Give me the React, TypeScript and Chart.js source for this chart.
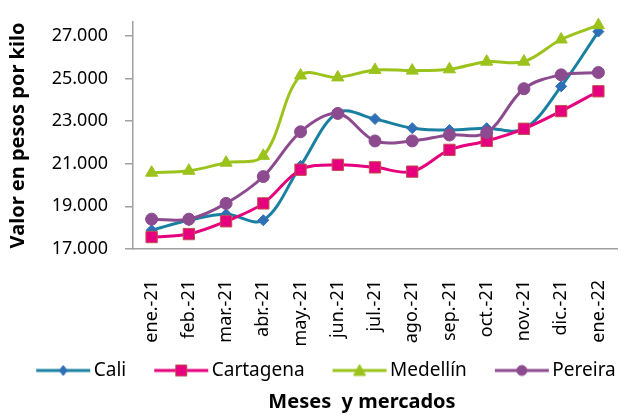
import React, { useEffect, useRef } from 'react';
import { Chart, registerables } from 'chart.js';

Chart.register(...registerables);

const categories = ['ene.-21', 'feb.-21', 'mar.-21', 'abr.-21', 'may.-21', 'jun.-21', 'jul.-21', 'ago.-21', 'sep.-21', 'oct.-21', 'nov.-21', 'dic.-21', 'ene.-22'];
const seriesNames = ['Cali', 'Cartagena', 'Medellín', 'Pereira'];
const cali = [17880, 18350, 18630, 18350, 20900, 23400, 23100, 22670, 22580, 22670, 22630, 24630, 27200];
const cartagena = [17560, 17700, 18300, 19140, 20720, 20950, 20830, 20630, 21650, 22070, 22640, 23470, 24400];
const medellin = [20580, 20670, 21050, 21370, 25140, 25050, 25400, 25370, 25430, 25790, 25790, 26830, 27500];
const pereira = [18400, 18400, 19140, 20400, 22500, 23360, 22070, 22070, 22350, 22460, 24520, 25170, 25280];
const yTicks = [17000, 19000, 21000, 23000, 25000, 27000];
const yTitle = 'Valor en pesos por kilo';
const xTitle = 'Meses  y mercados';

const FONT = '"Noto Sans", "Open Sans", sans-serif';

const styles = [
  { line: '#1a80a2', fill: '#2f6fb5', border: '#2f6fb5', shape: 'rectRot', radius: 5.5 },
  { line: '#e6007e', fill: '#e6007e', border: '#c0504d', shape: 'rect', radius: 8 },
  { line: '#9bc31c', fill: '#9bc31c', border: '#9bc31c', shape: 'triangle', radius: 7 },
  { line: '#8c4a8f', fill: '#8c4a8f', border: '#8c4a8f', shape: 'circle', radius: 6 },
];

// legend swatch: a line with its marker, placed in the right part of a wider transparent image
const SWATCH_W = 88;
const SWATCH_LINE_START = 33;
const SWATCH_LINE_LEN = 54;

function fmt(v: number): string {
  return String(Math.round(v)).replace(/\B(?=(\d{3})+(?!\d))/g, '.');
}

function legendImage(s: any): HTMLCanvasElement {
  const c = document.createElement('canvas');
  c.width = SWATCH_W;
  c.height = 16;
  const g = c.getContext('2d')!;
  g.strokeStyle = s.line;
  g.lineWidth = 3;
  g.beginPath();
  g.moveTo(SWATCH_LINE_START, 8);
  g.lineTo(SWATCH_LINE_START + SWATCH_LINE_LEN, 8);
  g.stroke();
  g.fillStyle = s.fill;
  g.strokeStyle = s.border;
  g.lineWidth = 1;
  const cx = SWATCH_LINE_START + SWATCH_LINE_LEN / 2, cy = 8;
  g.beginPath();
  if (s.shape === 'rectRot') {
    g.moveTo(cx, cy - 5); g.lineTo(cx + 4, cy); g.lineTo(cx, cy + 5); g.lineTo(cx - 4, cy); g.closePath();
  } else if (s.shape === 'rect') {
    g.rect(cx - 5.5, cy - 5.5, 11, 11);
  } else if (s.shape === 'triangle') {
    g.moveTo(cx, cy - 6); g.lineTo(cx + 6, cy + 5); g.lineTo(cx - 6, cy + 5); g.closePath();
  } else {
    g.arc(cx, cy, 5, 0, Math.PI * 2);
  }
  g.fill();
  g.stroke();
  return c;
}

const xTitlePlugin = {
  id: 'xTitleBottom',
  afterDraw(chart: any) {
    const { ctx, chartArea } = chart;
    ctx.save();
    ctx.font = 'bold 20px ' + FONT;
    ctx.fillStyle = '#000';
    ctx.textAlign = 'center';
    ctx.textBaseline = 'middle';
    ctx.fillText(xTitle, (chartArea.left + chartArea.right) / 2 - 13, chart.height - 13);
    ctx.restore();
  },
};

export default function App() {
  const ref = useRef<HTMLCanvasElement>(null);
  useEffect(() => {
    document.body.style.margin = '0';
    const images = styles.map(legendImage);
    const dataArrays = [cali, cartagena, medellin, pereira];
    const chart = new Chart(ref.current!, {
      type: 'line',
      data: {
        labels: categories,
        datasets: dataArrays.map((d, i) => ({
          label: seriesNames[i],
          data: d,
          borderColor: styles[i].line,
          backgroundColor: styles[i].fill,
          borderWidth: 3,
          pointStyle: styles[i].shape as any,
          pointRadius: styles[i].radius,
          pointBackgroundColor: styles[i].fill,
          pointBorderColor: styles[i].border,
          pointBorderWidth: 1,
          tension: 0.35,
          clip: false as any,
          order: 4 - i,
        })),
      },
      options: {
        responsive: false,
        animation: false,
        devicePixelRatio: 1,
        layout: { padding: { left: 0, top: 22, right: 0, bottom: 25 } },
        plugins: {
          tooltip: { enabled: false },
          legend: {
            position: 'bottom',
            labels: {
              usePointStyle: true,
              pointStyleWidth: 74,
              padding: 2,
              color: '#000',
              font: { family: FONT, size: 19 },
              generateLabels: (ch: any) =>
                ch.data.datasets.map((ds: any, i: number) => ({
                  text: ds.label,
                  pointStyle: images[i],
                  datasetIndex: i,
                  hidden: false,
                  fillStyle: 'transparent',
                  strokeStyle: 'transparent',
                  lineWidth: 0,
                  fontColor: '#000',
                })),
            },
          },
        },
        scales: {
          x: {
            offset: true,
            afterFit: (s: any) => { s.height = 110; s.paddingLeft = 0; s.paddingRight = 9; },
            grid: { display: false, drawTicks: false },
            border: { color: '#a0a0a0', width: 1.5 },
            ticks: {
              autoSkip: false,
              minRotation: 90,
              maxRotation: 90,
              padding: 31,
              color: '#000',
              font: { family: FONT, size: 18 },
            },
          },
          y: {
            min: 17000,
            max: 27650,
            afterBuildTicks: (s: any) => { s.ticks = yTicks.map((v) => ({ value: v })); },
            afterFit: (s: any) => { s.width = 133; s.paddingTop = 0; s.paddingBottom = 0; },
            grid: { drawOnChartArea: false, drawTicks: true, tickLength: 8, color: '#a0a0a0', lineWidth: 1.5 },
            border: { color: '#a0a0a0', width: 1.5 },
            ticks: {
              padding: 17,
              color: '#000',
              font: { family: FONT, size: 18 },
              callback: (v: any) => fmt(Number(v)),
            },
            title: {
              display: true,
              text: yTitle,
              color: '#000',
              font: { family: FONT, size: 20, weight: 'bold' },
              padding: { top: 6, bottom: 0 },
            },
          },
        },
      },
      plugins: [xTitlePlugin],
    });
    return () => chart.destroy();
  }, []);
  return (
    <div style={{ width: 626, height: 415 }}>
      <canvas ref={ref} width={626} height={415} style={{ display: 'block' }} />
    </div>
  );
}
